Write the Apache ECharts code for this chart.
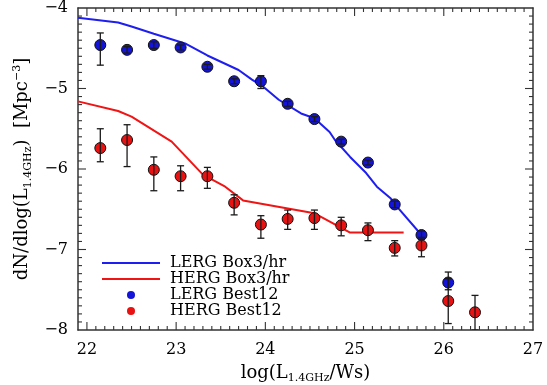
<!DOCTYPE html>
<html><head><meta charset="utf-8">
<script src="https://cdn.jsdelivr.net/npm/echarts@6/dist/echarts.min.js"></script>
<style>html,body{margin:0;padding:0;background:#fff}#c{width:547px;height:385px}</style>
</head><body><div id="c"></div>
<script>
// ---- data ----
const binCenters = [22.15,22.45,22.75,23.05,23.35,23.65,23.95,24.25,24.55,24.85,25.15,25.45,25.75,26.05,26.35];
const lergX = binCenters.slice(0, 14);
const lergValues = [-4.46,-4.52,-4.46,-4.49,-4.73,-4.91,-4.91,-5.19,-5.38,-5.66,-5.92,-6.44,-6.82,-7.41];
const lergErrHigh = [-4.31,-4.48,-4.42,-4.46,-4.70,-4.88,-4.84,-5.16,-5.35,-5.63,-5.89,-6.40,-6.77,-7.28];
const lergErrLow  = [-4.71,-4.56,-4.50,-4.52,-4.76,-4.94,-5.00,-5.22,-5.41,-5.69,-5.95,-6.48,-6.87,-7.50];
const hergX = binCenters;
const hergValues  = [-5.74,-5.64,-6.01,-6.09,-6.09,-6.42,-6.69,-6.62,-6.61,-6.70,-6.76,-6.98,-6.95,-7.64,-7.78];
const hergErrHigh = [-5.50,-5.45,-5.85,-5.96,-5.98,-6.32,-6.58,-6.51,-6.51,-6.60,-6.67,-6.89,-6.85,-7.36,-7.57];
const hergErrLow  = [-5.91,-5.97,-6.27,-6.27,-6.24,-6.57,-6.86,-6.75,-6.75,-6.83,-6.89,-7.08,-7.09,-7.92,-8.00];
const lergModelX = [21.9,22.35,22.5,22.75,23.1,23.35,23.7,23.85,23.98,24.15,24.4,24.55,24.72,24.78,24.95,25.13,25.25,25.4,25.47,25.75];
const lergModelY = [-4.12,-4.18,-4.23,-4.32,-4.44,-4.59,-4.77,-4.89,-4.98,-5.14,-5.31,-5.37,-5.54,-5.64,-5.85,-6.05,-6.22,-6.36,-6.46,-6.82];
const hergModelX = [21.9,22.35,22.5,22.95,23.3,23.55,23.75,24.55,24.65,24.95,25.55];
const hergModelY = [-5.16,-5.28,-5.35,-5.66,-6.07,-6.22,-6.39,-6.55,-6.61,-6.79,-6.79];
const xTickLabels = ['22','23','24','25','26','27'];
const yTickLabels = ['−8','−7','−6','−5','−4'];
const seriesNames = ['LERG Box3/hr','HERG Box3/hr','LERG Best12','HERG Best12'];

// ---- styles ----
const FONT = 'DejaVu Serif';
const BLUE_LINE = '#1e1ef0', RED_LINE = '#f01414';
const BLUE_PT = '#1414d8', RED_PT = '#e81212';
const AX = '#333';
const X_MIN = 21.9, X_MAX = 27, Y_MIN = -8, Y_MAX = -4;

function pairs(xs, ys){ return xs.map((x,i)=>[x, ys[i]]); }

function errSeries(xs, lo, hi){
  return {
    type: 'custom', z: 6, silent: true, clip: true,
    data: xs.map((x,i)=>[x, lo[i], hi[i]]),
    renderItem: function(params, api){
      const a = api.coord([api.value(0), api.value(1)]);
      const b = api.coord([api.value(0), api.value(2)]);
      const w = 3.5, st = {stroke:'#1a1a1a', lineWidth:1.3};
      return {type:'group', children:[
        {type:'line', shape:{x1:a[0],y1:a[1],x2:b[0],y2:b[1]}, style:st},
        {type:'line', shape:{x1:a[0]-w,y1:a[1],x2:a[0]+w,y2:a[1]}, style:st},
        {type:'line', shape:{x1:b[0]-w,y1:b[1],x2:b[0]+w,y2:b[1]}, style:st}
      ]};
    }
  };
}

// frame ticks (major every 1, minor every 0.1); each item sits inside the axis ranges
const frameTicks = [];
for (let i = Math.round(X_MIN * 10) + 1; i < Math.round(X_MAX * 10); i++) frameTicks.push([i / 10, Y_MIN, 0, i % 10 === 0 ? 1 : 0]);
for (let i = Math.round(Y_MIN * 10) + 1; i < Math.round(Y_MAX * 10); i++) frameTicks.push([X_MIN, i / 10, 1, i % 10 === 0 ? 1 : 0]);
const tickSeries = {
  type:'custom', z:7, silent:true, clip:false, data:frameTicks,
  encode:{x:0, y:1},
  renderItem: function(params, api){
    const isY = api.value(2) === 1, len = api.value(3) ? 8 : 4;
    const st = {stroke:AX, lineWidth:1.1};
    let a, b;
    if (!isY) {
      const v = api.value(0);
      a = api.coord([v, Y_MIN]); b = api.coord([v, Y_MAX]);
      return {type:'group', children:[
        {type:'line', shape:{x1:a[0],y1:a[1],x2:a[0],y2:a[1]-len}, style:st},
        {type:'line', shape:{x1:b[0],y1:b[1],x2:b[0],y2:b[1]+len}, style:st}]};
    }
    const v = api.value(1);
    a = api.coord([X_MIN, v]); b = api.coord([X_MAX, v]);
    return {type:'group', children:[
      {type:'line', shape:{x1:a[0],y1:a[1],x2:a[0]+len,y2:a[1]}, style:st},
      {type:'line', shape:{x1:b[0],y1:b[1],x2:b[0]-len,y2:b[1]}, style:st}]};
  }
};

function xAxisBase(pos, showLabel){
  return {
    type:'value', position:pos, min:X_MIN, max:X_MAX,
    axisLine:{show:true, onZero:false, lineStyle:{color:AX, width:1.5}},
    axisTick:{show:false}, minorTick:{show:false},
    splitLine:{show:false}, minorSplitLine:{show:false},
    axisLabel:{show:showLabel, margin:12, fontFamily:FONT, fontSize:16, color:'#000',
      formatter: v => { const s = String(Math.round(v)); return (Math.abs(v-Math.round(v))<1e-6 && xTickLabels.includes(s)) ? s : ''; }},
  };
}
function yAxisBase(pos, showLabel){
  return {
    type:'value', position:pos, min:Y_MIN, max:Y_MAX, interval:1,
    axisLine:{show:true, onZero:false, lineStyle:{color:AX, width:1.5}},
    axisTick:{show:false}, minorTick:{show:false},
    splitLine:{show:false}, minorSplitLine:{show:false},
    axisLabel:{show:showLabel, margin:10, fontFamily:FONT, fontSize:16, color:'#000',
      formatter: v => yTickLabels[Math.round(v - Y_MIN)] || ''},
  };
}

const xMain = xAxisBase('bottom', true);
Object.assign(xMain, {
  name:'{a|log(L}{sub|1.4GHz}{a|/Ws)}', nameLocation:'middle', nameGap:32,
  nameTextStyle:{rich:{
    a:{fontFamily:FONT, fontSize:18, color:'#000', lineHeight:22},
    sub:{fontFamily:FONT, fontSize:11, color:'#000', lineHeight:11, verticalAlign:'bottom'}
  }}
});
const yMain = yAxisBase('left', true);
Object.assign(yMain, {
  name:'{a|dN/dlog(L}{sub|1.4GHz}{a|)  [Mpc}{sup|−3}{a|]}', nameLocation:'middle', nameGap:42, nameRotate:90,
  nameTextStyle:{rich:{
    a:{fontFamily:FONT, fontSize:18, color:'#000', lineHeight:22},
    sub:{fontFamily:FONT, fontSize:11, color:'#000', lineHeight:11, verticalAlign:'bottom'},
    sup:{fontFamily:FONT, fontSize:11, color:'#000', lineHeight:11, verticalAlign:'top'}
  }}
});

const LINE_ICON = 'path://M0,0M0,3H58V5H0ZM58,8';
const option = {
  animation:false,
  backgroundColor:'#fff',
  grid:{left:78, right:14, top:8, bottom:55, containLabel:false, outerBoundsMode:'none'},
  xAxis:[xMain, xAxisBase('top', false)],
  yAxis:[yMain, yAxisBase('right', false)],
  legend:{
    orient:'vertical', left:102, top:255, padding:0, itemWidth:58, itemHeight:8, itemGap:0,
    textStyle:{fontFamily:FONT, fontSize:16, color:'#000', lineHeight:14, padding:[0,0,0,5]},
    data:[
      {name:seriesNames[0], icon:LINE_ICON, itemStyle:{borderWidth:0}},
      {name:seriesNames[1], icon:LINE_ICON, itemStyle:{borderWidth:0}},
      {name:seriesNames[2], icon:'circle', itemStyle:{borderWidth:0}},
      {name:seriesNames[3], icon:'circle', itemStyle:{borderWidth:0}}
    ]
  },
  series:[
    {name:seriesNames[0], type:'line', data:pairs(lergModelX, lergModelY), symbol:'none', z:2,
      lineStyle:{color:BLUE_LINE, width:2}, itemStyle:{color:BLUE_LINE}},
    {name:seriesNames[1], type:'line', data:pairs(hergModelX, hergModelY), symbol:'none', z:2,
      lineStyle:{color:RED_LINE, width:2}, itemStyle:{color:RED_LINE}},
    {name:seriesNames[2], type:'scatter', data:pairs(lergX, lergValues), symbol:'circle', symbolSize:11, z:4,
      itemStyle:{color:BLUE_PT, borderColor:'#111', borderWidth:1, opacity:1}},
    {name:seriesNames[3], type:'scatter', data:pairs(hergX, hergValues), symbol:'circle', symbolSize:11, z:4,
      itemStyle:{color:RED_PT, borderColor:'#111', borderWidth:1, opacity:1}},
    errSeries(lergX, lergErrLow, lergErrHigh),
    errSeries(hergX, hergErrLow, hergErrHigh),
    tickSeries
  ]
};
const chart = echarts.init(document.getElementById('c'), null, {renderer:'canvas'});
chart.setOption(option);
</script></body></html>
